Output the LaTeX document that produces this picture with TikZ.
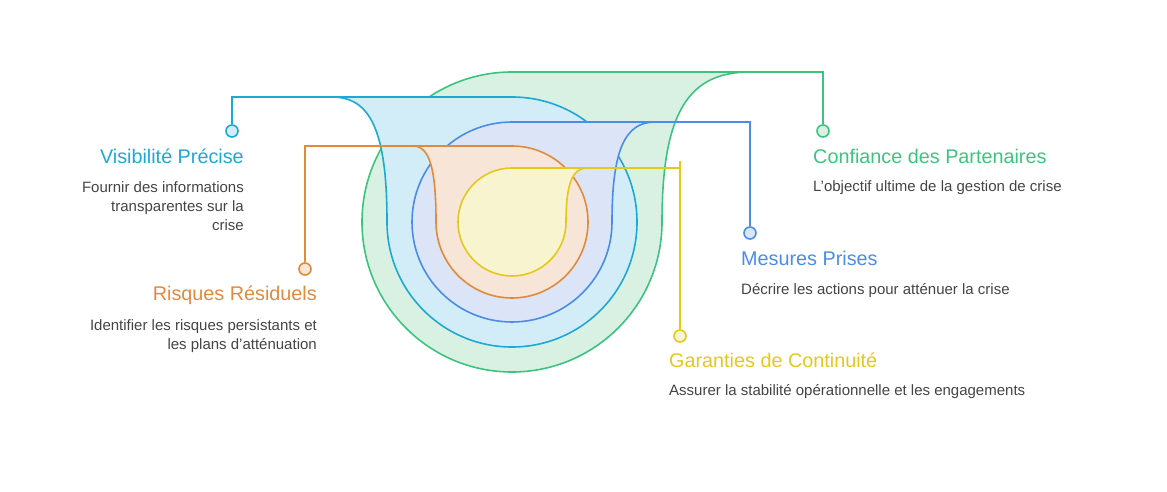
\documentclass[tikz,border=0pt]{standalone}
\usepackage{fontspec}
\setmainfont{Liberation Sans}
\definecolor{cg}{HTML}{3CC47F}\definecolor{fg}{HTML}{D8F1E3}
\definecolor{cc}{HTML}{1EA8D6}\definecolor{fc}{HTML}{D3EDF8}
\definecolor{cb}{HTML}{4A8DE6}\definecolor{fb}{HTML}{DCE5F8}
\definecolor{co}{HTML}{E08A3C}\definecolor{fo}{HTML}{F7E5D7}
\definecolor{cy}{HTML}{E5C81C}\definecolor{fy}{HTML}{F8F4CF}
\definecolor{tx}{HTML}{444444}
\tikzset{
 ring/.style={line width=1.6pt},
 lead/.style={line width=1.6pt},
 dot/.style={circle,minimum size=12pt,inner sep=0pt,line width=1.6pt},
 ttl/.style={font=\fontsize{19.8}{22}\selectfont,inner sep=0pt},
 bdy/.style={font=\fontsize{15}{19}\selectfont,text=tx,inner sep=0pt},
}
\begin{document}
\begin{tikzpicture}[x=1pt,y=-1pt]
\useasboundingbox (0,0) rectangle (1167,492);
% green (flag right)
\draw[ring,draw=cg,fill=fg] (512,72) arc[start angle=-90,end angle=-360,radius=150]
  .. controls (662,110) and (690,72) .. (750,72) -- cycle;
% cyan (flag left)
\draw[ring,draw=cc,fill=fc] (512,97) arc[start angle=-90,end angle=180,radius=125]
  .. controls (387,130) and (370,97) .. (332,97) -- cycle;
% blue (flag right)
\draw[ring,draw=cb,fill=fb] (512,122) arc[start angle=-90,end angle=-360,radius=100]
  .. controls (612,150) and (625,122) .. (655,122) -- cycle;
% orange (flag left)
\draw[ring,draw=co,fill=fo] (512,146) arc[start angle=-90,end angle=180,radius=76]
  .. controls (436,170) and (430,146) .. (413,146) -- cycle;
% yellow (flag right)
\draw[ring,draw=cy,fill=fy] (512,168) arc[start angle=-90,end angle=-360,radius=54]
  .. controls (566,185) and (572,168) .. (587,168) -- cycle;
% markers
\node[dot,draw=cg,fill=fg] (mg) at (823,131) {};
\node[dot,draw=cc,fill=fc] (mc) at (232,131) {};
\node[dot,draw=cb,fill=fb] (mb) at (750,233) {};
\node[dot,draw=co,fill=fo] (mo) at (305,269) {};
\node[dot,draw=cy,fill=fy] (my) at (680,336) {};
\draw[lead,cg] (750,72) -- (823,72) -- (mg);
\draw[lead,cc] (332,97) -- (232,97) -- (mc);
\draw[lead,cb] (655,122) -- (750,122) -- (mb);
\draw[lead,co] (413,146) -- (305,146) -- (mo);
\draw[lead,cy] (587,168) -- (680,168);
\draw[lead,cy] (680,161) -- (my);
% texts
\node[ttl,text=cc,anchor=east] (t1) at (244,156) {Visibilité Précise};
\node[bdy,anchor=north east,align=right] (b1) at (244,181) {Fournir des informations\\transparentes sur la\\crise};
\node[ttl,text=co,anchor=east] (t2) at (317,295) {Risques Résiduels};
\node[bdy,anchor=north east,align=right] (b2) at (317,319) {Identifier les risques persistants et\\les plans d'atténuation};
\node[ttl,text=cg,anchor=west] (t3) at (813,156) {Confiance des Partenaires};
\node[bdy,anchor=west] (b3) at (813,188) {L'objectif ultime de la gestion de crise};
\node[ttl,text=cb,anchor=west] (t4) at (741,258) {Mesures Prises};
\node[bdy,anchor=west] (b4) at (741,291) {Décrire les actions pour atténuer la crise};
\node[ttl,text=cy,anchor=west] (t5) at (669,360) {Garanties de Continuité};
\node[bdy,anchor=west] (b5) at (669,392) {Assurer la stabilité opérationnelle et les engagements};
\end{tikzpicture}
\end{document}
